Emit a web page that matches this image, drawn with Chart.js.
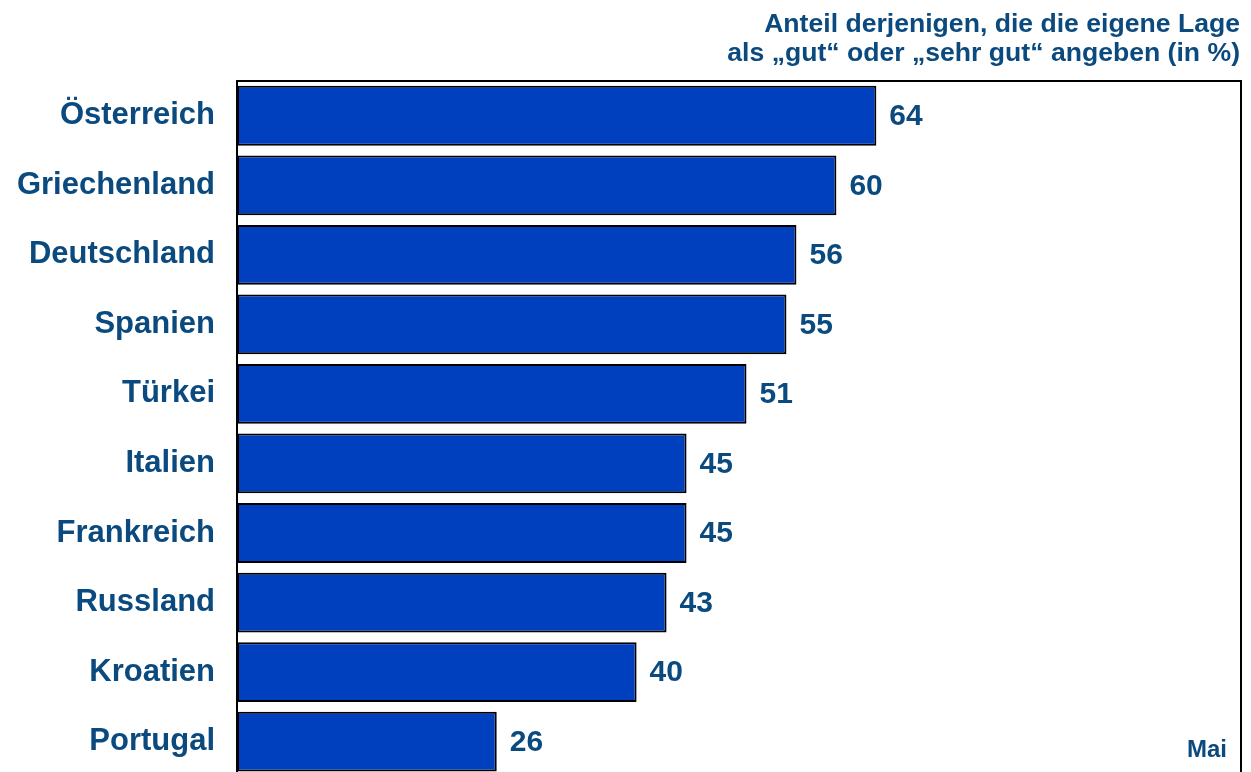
<!DOCTYPE html>
<html>
<head>
<meta charset="utf-8">
<script src="https://cdn.jsdelivr.net/npm/chart.js@4.4.1/dist/chart.umd.min.js"></script>
<style>
    html, body { margin: 0; padding: 0; background: #fff; overflow: hidden; }
</style>
</head>
<body>
<!-- canvas is taller than the window: the frame runs off the bottom edge -->
<canvas id="barChart" width="1251" height="809"></canvas>
<script>
// data
const countries = ['Österreich', 'Griechenland', 'Deutschland', 'Spanien', 'Türkei',
    'Italien', 'Frankreich', 'Russland', 'Kroatien', 'Portugal'];
const shares = [64, 60, 56, 55, 51, 45, 45, 43, 40, 26];
const titleLines = ['Anteil derjenigen, die die eigene Lage', 'als „gut“ oder „sehr gut“ angeben (in %)'];
const noteText = 'Mai';

const textColor = '#0B4A7E';
const fontFamily = '"Liberation Sans", Arial, sans-serif';

// frame + value labels + header text
const decorations = {
    id: 'decorations',
    afterDatasetsDraw(chart) {
        const ctx = chart.ctx;
        const area = chart.chartArea;
        ctx.save();

        // frame (no bottom line, it runs off the page)
        ctx.strokeStyle = '#000';
        ctx.lineWidth = 2;
        ctx.beginPath();
        ctx.moveTo(area.left, area.bottom + 5);
        ctx.lineTo(area.left, area.top);
        ctx.lineTo(area.right, area.top);
        ctx.lineTo(area.right, area.bottom + 5);
        ctx.stroke();

        // values next to bars
        ctx.fillStyle = textColor;
        ctx.font = 'bold 30px ' + fontFamily;
        ctx.textAlign = 'left';
        ctx.textBaseline = 'middle';
        chart.getDatasetMeta(0).data.forEach((bar, i) => {
            ctx.fillText(String(shares[i]), bar.x + 13, bar.y + 1);
        });

        // header, right aligned
        ctx.font = 'bold 26.6px ' + fontFamily;
        ctx.textAlign = 'right';
        ctx.fillText(titleLines[0], area.right - 1, 25);
        ctx.fillText(titleLines[1], area.right - 1, 54);

        // note in bottom corner
        ctx.font = 'bold 24px ' + fontFamily;
        ctx.fillText(noteText, area.right - 14, 750);
        ctx.restore();
    }
};

const ctx1 = document.getElementById('barChart').getContext('2d');

new Chart(ctx1, {
    type: 'bar',
    data: {
        labels: countries,
        datasets: [{
            data: shares,
            backgroundColor: '#0040BF',
            borderColor: '#000',
            borderWidth: 2,
            borderSkipped: false,
            barPercentage: 0.86,
            categoryPercentage: 1.0
        }]
    },
    options: {
        indexAxis: 'y',
        responsive: false,
        animation: false,
        layout: {
            autoPadding: false,
            padding: { top: 81, right: 10, left: 0, bottom: 0 }
        },
        plugins: {
            legend: { display: false },
            tooltip: { enabled: false }
        },
        scales: {
            x: {
                display: false,
                min: 0,
                max: 100.5
            },
            y: {
                grid: { display: false },
                border: { display: false },
                ticks: {
                    color: textColor,
                    padding: 14,
                    font: { family: fontFamily, size: 31, weight: 'bold' }
                },
                afterFit(scale) {
                    scale.width = 237;
                }
            }
        }
    },
    plugins: [decorations]
});
</script>
</body>
</html>
